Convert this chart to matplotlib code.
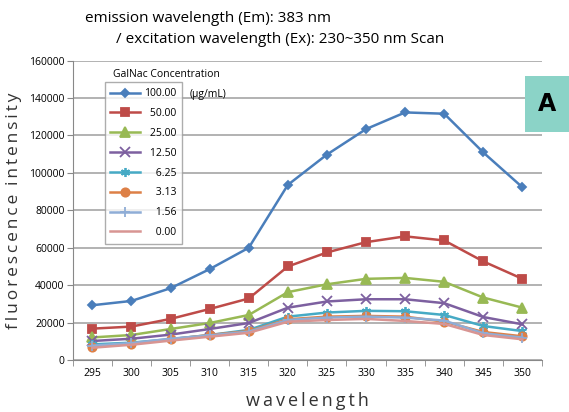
import matplotlib
matplotlib.use('Agg')
import matplotlib.pyplot as plt
from matplotlib.patches import Rectangle

wavelengths = [295, 300, 305, 310, 315, 320, 325, 330, 335, 340, 345, 350]
conc_labels = ['100.00', '50.00', '25.00', '12.50', '6.25', '3.13', '1.56', '0.00']

c100 = [29300, 31600, 38400, 48600, 60000, 93600, 109800, 123400, 132300, 131600, 110900, 92300]
c50 = [16800, 17900, 22000, 27300, 32900, 50000, 57500, 63000, 66100, 63900, 52700, 43400]
c25 = [12100, 13400, 16600, 19800, 24100, 36300, 40500, 43400, 43900, 41800, 33400, 28000]
c12 = [10200, 11400, 13600, 16600, 19800, 28000, 31300, 32500, 32500, 30400, 23000, 19100]
c6 = [8400, 9300, 11200, 13400, 16100, 23200, 25400, 26300, 26100, 24100, 18200, 15500]
c3 = [7100, 8600, 11100, 13400, 15500, 21800, 23200, 23600, 23200, 20500, 15000, 12700]
c1 = [7700, 9100, 11400, 13200, 15200, 21400, 22700, 23200, 22700, 21100, 14300, 12000]
c0 = [6600, 8200, 10400, 12500, 14600, 20500, 21400, 22000, 20900, 19300, 13400, 11100]
series = [c100, c50, c25, c12, c6, c3, c1, c0]

colors = ['#4a7ebb', '#be4b48', '#98b954', '#7d60a0', '#46aac5', '#dd8047', '#8fadd6', '#d89593']
markers = ['D', 's', '^', 'x', (6, 2, 0), 'o', '+', None]
msizes = [4.5, 6, 6.5, 6.5, 6.5, 6, 6.5, 0]

plt.rcParams['font.family'] = ['Open Sans', 'DejaVu Sans']

fig = plt.figure(figsize=(5.69, 4.12), dpi=100)
ax = fig.add_axes([0.128, 0.126, 0.8245, 0.727])

x = list(range(len(wavelengths)))
handles = []
for vals, col, mk, ms in zip(series, colors, markers, msizes):
    h, = ax.plot(x, vals, color=col, lw=1.8, marker=mk, markersize=ms,
                 markeredgewidth=1.3, zorder=3)
    handles.append(h)

ax.set_xlim(-0.5, 11.5)
ax.set_ylim(0, 160000)
ax.set_yticks(range(0, 160001, 20000))
ax.set_yticklabels([str(v) for v in range(0, 160001, 20000)], fontsize=7.5)
ax.set_xticks(x)
ax.set_xticklabels([str(w) for w in wavelengths], fontsize=7.5)
ax.set_xticks([i - 0.5 for i in range(13)], minor=True)
ax.tick_params(axis='x', which='major', length=0, pad=6)
ax.tick_params(axis='x', which='minor', length=4, color='#888888', direction='out')
ax.tick_params(axis='y', length=4, color='#888888', pad=2)
ax.grid(axis='y', color='#a6a6a6', lw=1.2)
ax.set_axisbelow(True)
for s in ['top', 'right']:
    ax.spines[s].set_visible(False)
for s in ['left', 'bottom']:
    ax.spines[s].set_color('#888888')

sp = '\u2009'
ax.set_xlabel(sp.join('wavelength'), fontsize=13, labelpad=9, color='#333333')
ax.set_ylabel(sp.join('fluorescence') + '\u2002' + sp.join('intensity'), fontsize=12.5,
              labelpad=5, color='#333333')

fig.text(0.149, 0.955, 'emission wavelength (Em): 383 nm', fontsize=11, va='center')
fig.text(0.204, 0.905, '/ excitation wavelength (Ex): 230~350 nm Scan', fontsize=11, va='center')

# right-align the legend numbers with figure spaces
padded = [lab.rjust(6, '\u2007') for lab in conc_labels]
leg = ax.legend(handles, padded, loc='upper left', bbox_to_anchor=(0.068, 0.927),
                fontsize=7.5, frameon=True, fancybox=False, edgecolor='#999999',
                handlelength=2.8, handletextpad=0.4, labelspacing=0.85, borderpad=0.55,
                borderaxespad=0)
leg.get_frame().set_linewidth(1)

fig.text(0.199, 0.82, 'GalNac Concentration', fontsize=7.5, va='center')
fig.text(0.334, 0.77, '(\u03bcg/mL)', fontsize=7.5, va='center')

fig.patches.append(Rectangle((0.923, 0.68), 0.077, 0.136, transform=fig.transFigure,
                             facecolor='#8bd3c7', edgecolor='none'))
fig.text(0.962, 0.748, 'A', fontsize=17, fontweight='bold', ha='center', va='center',
         family='DejaVu Sans Condensed')

fig.savefig('out.png', dpi=100)
